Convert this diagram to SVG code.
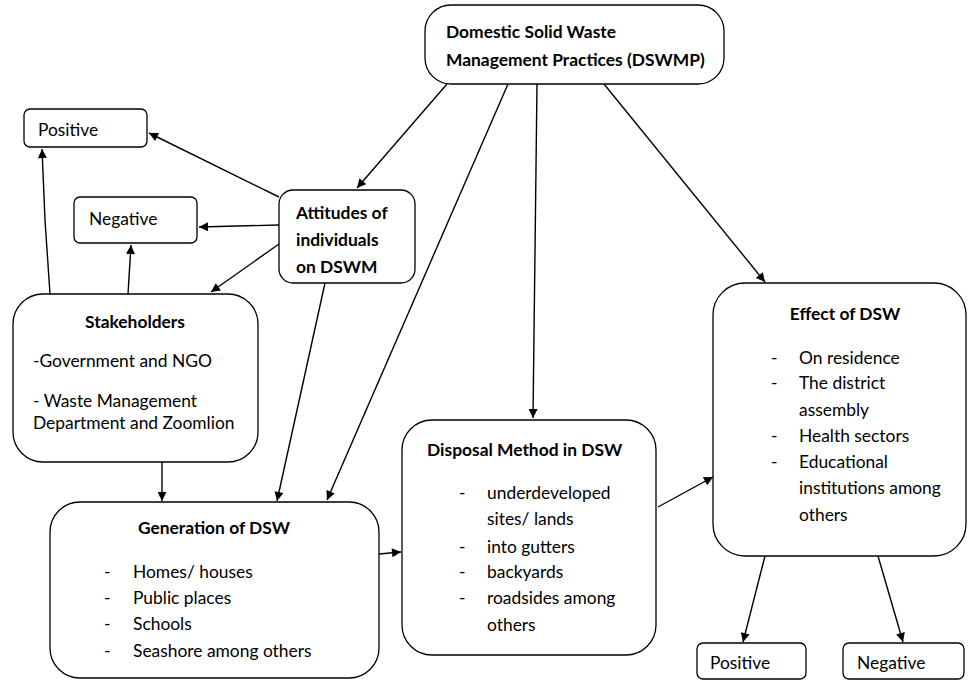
<svg xmlns="http://www.w3.org/2000/svg" width="968" height="681" viewBox="0 0 968 681">
<style>
.box{fill:#fff;stroke:#000;stroke-width:1.3}
text{font-family:Lato,"Open Sans","Liberation Sans",sans-serif;font-size:17.4px;fill:#000}
.b{font-weight:bold}
.c{text-anchor:middle}
.conn line,.conn path{stroke:#000;stroke-width:1.4;fill:none;marker-end:url(#ah)}
</style>
<defs>
<marker id="ah" viewBox="0 0 10 10" refX="10" refY="5" markerWidth="10" markerHeight="9" orient="auto" markerUnits="userSpaceOnUse"><path d="M0,0 L10,5 L0,10 z" fill="#000"/></marker>
</defs>
<rect width="968" height="681" fill="#fff"/>
<g class="conn">
<line x1="447" y1="84" x2="357" y2="188"/>
<line x1="508" y1="84" x2="327" y2="500"/>
<line x1="537" y1="84" x2="533" y2="418"/>
<line x1="604" y1="84" x2="765" y2="282"/>
<line x1="279" y1="197" x2="149" y2="133"/>
<line x1="279" y1="225" x2="199" y2="227"/>
<line x1="279" y1="244" x2="211" y2="292"/>
<path d="M50,294 L45,220 L42,149"/>
<line x1="128" y1="294" x2="131" y2="245"/>
<line x1="325" y1="283" x2="277" y2="501"/>
<line x1="162" y1="462" x2="162" y2="501"/>
<line x1="379" y1="554" x2="401" y2="552"/>
<line x1="658" y1="507" x2="713" y2="477"/>
<line x1="765" y1="556" x2="743" y2="642"/>
<line x1="878" y1="556" x2="903" y2="642"/>
</g>
<g id="dswmp">
<rect class="box" x="425" y="5" width="299" height="79" rx="26"/>
<text class="b" x="446" y="38">Domestic Solid Waste</text>
<text class="b" x="446" y="66">Management Practices (DSWMP)</text>
</g>
<g id="positive1">
<rect class="box" x="24" y="109" width="123" height="38" rx="6"/>
<text x="38" y="136">Positive</text>
</g>
<g id="negative1">
<rect class="box" x="74" y="197" width="123" height="46" rx="6"/>
<text x="89" y="225">Negative</text>
</g>
<g id="attitudes">
<rect class="box" x="279" y="190" width="136" height="93" rx="14"/>
<text class="b" x="296" y="219">Attitudes of</text>
<text class="b" x="296" y="246">individuals</text>
<text class="b" x="296" y="273">on DSWM</text>
</g>
<g id="stakeholders">
<rect class="box" x="13" y="294" width="245" height="168" rx="30"/>
<text class="b c" x="135" y="328">Stakeholders</text>
<text x="33" y="367">-Government and NGO</text>
<text x="33" y="407">- Waste Management</text>
<text x="33" y="429">Department and Zoomlion</text>
</g>
<g id="generation">
<rect class="box" x="50" y="502" width="329" height="176" rx="30"/>
<text class="b c" x="214" y="534">Generation of DSW</text>
<text x="104" y="578">-</text><text x="133" y="578">Homes/ houses</text>
<text x="104" y="604">-</text><text x="133" y="604">Public places</text>
<text x="104" y="630">-</text><text x="133" y="630">Schools</text>
<text x="104" y="657">-</text><text x="133" y="657">Seashore among others</text>
</g>
<g id="disposal">
<rect class="box" x="402" y="420" width="254" height="235" rx="30"/>
<text class="b" x="427" y="456">Disposal Method in DSW</text>
<text x="459" y="499">-</text><text x="487" y="499">underdeveloped</text>
<text x="487" y="525">sites/ lands</text>
<text x="459" y="553">-</text><text x="487" y="553">into gutters</text>
<text x="459" y="578">-</text><text x="487" y="578">backyards</text>
<text x="459" y="604">-</text><text x="487" y="604">roadsides among</text>
<text x="487" y="631">others</text>
</g>
<g id="effect">
<rect class="box" x="713" y="283" width="253" height="273" rx="32"/>
<text class="b c" x="845" y="320">Effect of DSW</text>
<text x="771" y="364">-</text><text x="799" y="364">On residence</text>
<text x="771" y="389">-</text><text x="799" y="389">The district</text>
<text x="799" y="416">assembly</text>
<text x="771" y="442">-</text><text x="799" y="442">Health sectors</text>
<text x="771" y="468">-</text><text x="799" y="468">Educational</text>
<text x="799" y="494">institutions among</text>
<text x="799" y="521">others</text>
</g>
<g id="positive2">
<rect class="box" x="697" y="643" width="109" height="36" rx="6"/>
<text x="710" y="669">Positive</text>
</g>
<g id="negative2">
<rect class="box" x="843" y="643" width="121" height="36" rx="6"/>
<text x="857" y="669">Negative</text>
</g>
</svg>
